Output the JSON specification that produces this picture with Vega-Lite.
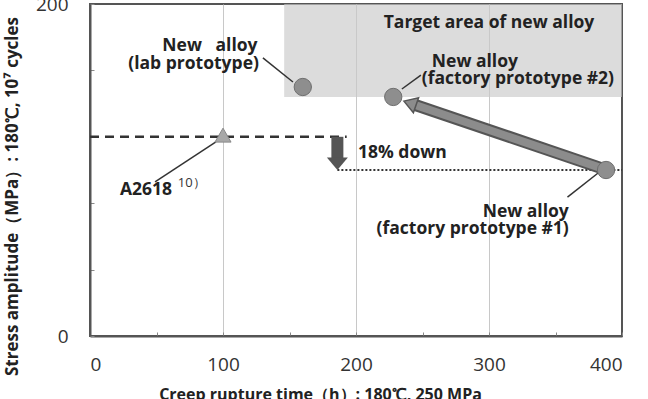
{
  "$schema": "https://vega.github.io/schema/vega-lite/v6.json",
  "width": 532,
  "height": 332,
  "autosize": {"type": "none"},
  "padding": {"left": 90, "top": 4, "right": 26, "bottom": 63},
  "background": "white",
  "config": {
    "font": "Open Sans",
    "view": {"stroke": "#555555", "strokeWidth": 2},
    "axis": {
      "domainColor": "#555555",
      "domainWidth": 2,
      "tickColor": "#888888",
      "gridColor": "#c8c8c8",
      "labelFont": "Open Sans",
      "labelFontSize": 19,
      "labelColor": "#333333",
      "titleFont": "Open Sans",
      "titleFontSize": 16,
      "titleFontWeight": "bold",
      "titleColor": "#222222"
    }
  },
  "datasets": {
    "target": [{"x": 146, "x2": 400, "y": 144, "y2": 200}],
    "circles": [
      {"name": "lab prototype", "x": 160, "y": 150},
      {"name": "factory prototype #2", "x": 228, "y": 144},
      {"name": "factory prototype #1", "x": 388, "y": 100}
    ],
    "a2618": [{"name": "A2618", "x": 100, "y": 121}],
    "dashed": [{"x": 0, "x2": 193, "y": 120}],
    "dotted": [{"x": 186, "x2": 400, "y": 100}],
    "downShaft": [{"x": 186, "y": 120, "y2": 107}],
    "downHead": [{"x": 186, "y": 100}],
    "bigShaft": [{"x": 385, "y": 101, "x2": 244, "y2": 139.3}],
    "bigHead": [{"x": 236, "y": 141.5}],
    "leaders": [
      {"x": 130, "y": 167.5, "x2": 152.6, "y2": 153},
      {"x": 234.5, "y": 148.8, "x2": 248.8, "y2": 157.2},
      {"x": 48.9, "y": 92.8, "x2": 94.7, "y2": 116.9},
      {"x": 359, "y": 83.7, "x2": 383, "y2": 98.8}
    ],
    "textsLeft": [
      {"x": 257, "y": 165, "t": "New alloy"},
      {"x": 249.5, "y": 155, "t": "(factory prototype #2)"},
      {"x": 22.5, "y": 88, "t": "A2618"},
      {"x": 201.5, "y": 110, "t": "18% down"}
    ],
    "textsRight": [
      {"x": 126, "y": 175, "t": "New\u00a0\u00a0\u00a0alloy"},
      {"x": 127, "y": 164, "t": "(lab prototype)"},
      {"x": 360, "y": 74.7, "t": "New alloy"},
      {"x": 360, "y": 64.5, "t": "(factory prototype #1)"}
    ],
    "textsCenter": [{"x": 300, "y": 188.5, "t": "Target area of new alloy"}],
    "sup": [{"x": 66, "y": 92, "t": "10）"}]
  },
  "layer": [
    {
      "data": {"name": "target"},
      "mark": {"type": "rect", "fill": "#c9c9c9", "opacity": 0.65},
      "encoding": {
        "x": {
          "field": "x", "type": "quantitative",
          "scale": {"domain": [0, 400], "nice": false},
          "axis": {
            "values": [0, 50, 100, 150, 200, 250, 300, 350, 400],
            "labelExpr": "datum.value % 100 === 0 ? datum.label : ''",
            "tickSize": -4,
            "labelPadding": 23,
            "gridOpacity": {"condition": {"test": "datum.value % 100 !== 0 || datum.value === 0 || datum.value === 400", "value": 0}, "value": 1},
            "title": "Creep rupture time（h）: 180℃, 250 MPa",
            "titleX": 230,
            "titleY": 50,
            "titleBaseline": "top"
          }
        },
        "x2": {"field": "x2"},
        "y": {
          "field": "y", "type": "quantitative",
          "scale": {"domain": [0, 200], "nice": false},
          "axis": {
            "values": [0, 20, 40, 60, 80, 100, 120, 140, 160, 180, 200],
            "labelExpr": "datum.value % 100 === 0 ? datum.label : ''",
            "tickSize": -4,
            "labelPadding": 26,
            "gridOpacity": {"condition": {"test": "datum.value !== 100", "value": 0}, "value": 1},
            "title": "Stress amplitude（MPa）: 180℃, 10⁷ cycles",
            "titleFontSize": 17,
            "titleX": -69,
            "titleY": 192
          }
        },
        "y2": {"field": "y2"}
      }
    },
    {
      "data": {"name": "dashed"},
      "mark": {"type": "rule", "color": "#333333", "strokeWidth": 2.5, "strokeDash": [9, 6]},
      "encoding": {
        "x": {"field": "x", "type": "quantitative"},
        "x2": {"field": "x2"},
        "y": {"field": "y", "type": "quantitative"}
      }
    },
    {
      "data": {"name": "dotted"},
      "mark": {"type": "rule", "color": "#333333", "strokeWidth": 2, "strokeDash": [2, 2]},
      "encoding": {
        "x": {"field": "x", "type": "quantitative"},
        "x2": {"field": "x2"},
        "y": {"field": "y", "type": "quantitative"}
      }
    },
    {
      "data": {"name": "downShaft"},
      "mark": {"type": "rule", "color": "#555555", "strokeWidth": 12},
      "encoding": {
        "x": {"field": "x", "type": "quantitative"},
        "y": {"field": "y", "type": "quantitative"},
        "y2": {"field": "y2"}
      }
    },
    {
      "data": {"name": "downHead"},
      "mark": {"type": "point", "shape": "M-1,-1.2L1,-1.2L0,0Z", "size": 441, "filled": true, "fill": "#555555", "opacity": 1, "strokeWidth": 0},
      "encoding": {
        "x": {"field": "x", "type": "quantitative"},
        "y": {"field": "y", "type": "quantitative"}
      }
    },
    {
      "data": {"name": "bigShaft"},
      "mark": {"type": "rule", "color": "#555555", "strokeWidth": 12},
      "encoding": {
        "x": {"field": "x", "type": "quantitative"},
        "y": {"field": "y", "type": "quantitative"},
        "x2": {"field": "x2"},
        "y2": {"field": "y2"}
      }
    },
    {
      "data": {"name": "bigShaft"},
      "mark": {"type": "rule", "color": "#8c8c8c", "strokeWidth": 8},
      "encoding": {
        "x": {"field": "x", "type": "quantitative"},
        "y": {"field": "y", "type": "quantitative"},
        "x2": {"field": "x2"},
        "y2": {"field": "y2"}
      }
    },
    {
      "data": {"name": "bigHead"},
      "mark": {"type": "point", "shape": "M0,0L-1,1.6L1,1.6Z", "size": 256, "angle": 289, "filled": true, "fill": "#8c8c8c", "stroke": "#555555", "strokeWidth": 1.5, "opacity": 1},
      "encoding": {
        "x": {"field": "x", "type": "quantitative"},
        "y": {"field": "y", "type": "quantitative"}
      }
    },
    {
      "data": {"name": "leaders"},
      "mark": {"type": "rule", "color": "#333333", "strokeWidth": 1.5},
      "encoding": {
        "x": {"field": "x", "type": "quantitative"},
        "y": {"field": "y", "type": "quantitative"},
        "x2": {"field": "x2"},
        "y2": {"field": "y2"}
      }
    },
    {
      "data": {"name": "circles"},
      "mark": {"type": "point", "shape": "circle", "size": 300, "filled": true, "fill": "#8e8e8e", "stroke": "#6e6e6e", "strokeWidth": 1, "opacity": 1},
      "encoding": {
        "x": {"field": "x", "type": "quantitative"},
        "y": {"field": "y", "type": "quantitative"}
      }
    },
    {
      "data": {"name": "a2618"},
      "mark": {"type": "point", "shape": "triangle-up", "size": 260, "filled": true, "fill": "#a8a8a8", "stroke": "#888888", "strokeWidth": 1, "opacity": 1},
      "encoding": {
        "x": {"field": "x", "type": "quantitative"},
        "y": {"field": "y", "type": "quantitative"}
      }
    },
    {
      "data": {"name": "textsLeft"},
      "mark": {"type": "text", "align": "left", "baseline": "middle", "fontSize": 17.5, "fontWeight": "bold", "color": "#222222"},
      "encoding": {
        "x": {"field": "x", "type": "quantitative"},
        "y": {"field": "y", "type": "quantitative"},
        "text": {"field": "t"}
      }
    },
    {
      "data": {"name": "textsRight"},
      "mark": {"type": "text", "align": "right", "baseline": "middle", "fontSize": 17.5, "fontWeight": "bold", "color": "#222222"},
      "encoding": {
        "x": {"field": "x", "type": "quantitative"},
        "y": {"field": "y", "type": "quantitative"},
        "text": {"field": "t"}
      }
    },
    {
      "data": {"name": "textsCenter"},
      "mark": {"type": "text", "align": "center", "baseline": "middle", "fontSize": 17.5, "fontWeight": "bold", "color": "#222222"},
      "encoding": {
        "x": {"field": "x", "type": "quantitative"},
        "y": {"field": "y", "type": "quantitative"},
        "text": {"field": "t"}
      }
    },
    {
      "data": {"name": "sup"},
      "mark": {"type": "text", "align": "left", "baseline": "middle", "fontSize": 13, "color": "#333333"},
      "encoding": {
        "x": {"field": "x", "type": "quantitative"},
        "y": {"field": "y", "type": "quantitative"},
        "text": {"field": "t"}
      }
    }
  ]
}
